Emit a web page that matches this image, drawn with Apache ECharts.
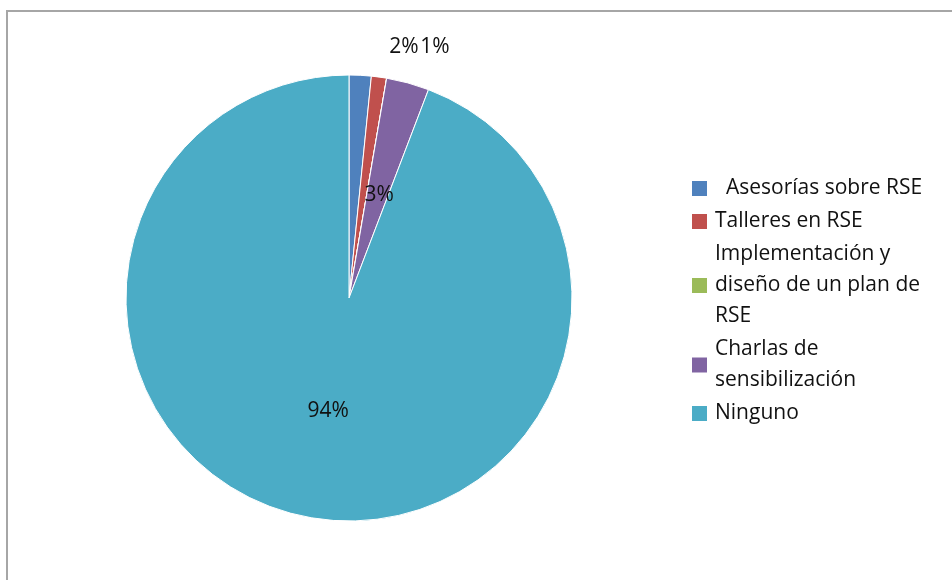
<!DOCTYPE html>
<html>
<head>
<meta charset="utf-8">
<script src="https://cdn.jsdelivr.net/npm/echarts@6/dist/echarts.min.js"></script>
<style>html,body{margin:0;padding:0;background:#fff}#c{width:952px;height:580px}</style>
</head>
<body>
<div id="c"></div>
<script>
const categories = ['Asesorías sobre RSE', 'Talleres en RSE', 'Implementación y diseño de un plan de RSE', 'Charlas de sensibilización', 'Ninguno'];
const legendLabels = ['  Asesorías sobre RSE', 'Talleres en RSE', 'Implementación y\ndiseño de un plan de\nRSE', 'Charlas de\nsensibilización', 'Ninguno'];
const values = [1.6, 1.1, 0, 3.1, 94.2];
const colors = ['#4F81BD', '#C0504D', '#9BBB59', '#8064A2', '#4BACC6'];

const chart = echarts.init(document.getElementById('c'));
const data = categories.map((n, i) => ({
  name: n, value: values[i],
  itemStyle: { color: colors[i] },
  label: { show: values[i] > 0 }
}));
chart.setOption({
  animation: false,
  graphic: [
    { type: 'line', shape: { x1: 7, y1: 11, x2: 7, y2: 580 }, style: { stroke: '#a6a6a6', lineWidth: 2 } },
    { type: 'line', shape: { x1: 6, y1: 11, x2: 952, y2: 11 }, style: { stroke: '#a6a6a6', lineWidth: 2 } }
  ],
  legend: {
    orient: 'vertical',
    left: 685,
    top: 168,
    itemWidth: 17,
    itemHeight: 17,
    itemGap: 2,
    icon: 'rect',
    data: categories,
    formatter: name => legendLabels[categories.indexOf(name)],
    textStyle: { fontFamily: 'Open Sans', fontSize: 21, color: '#111', lineHeight: 31, padding: [0, 0, 0, 2] }
  },
  series: [{
    type: 'pie',
    center: [349, 298],
    radius: 223,
    startAngle: 90,
    clockwise: true,
    data: data,
    itemStyle: { borderColor: '#fff', borderWidth: 1 },
    label: {
      show: true,
      position: 'inside',
      formatter: p => Math.round(p.percent) + '%',
      fontFamily: 'Open Sans',
      fontSize: 21,
      color: '#111'
    },
    labelLine: { show: false },
    labelLayout: function (p) {
      if (p.dataIndex === 0) return { x: 404, y: 47, align: 'center', verticalAlign: 'middle' };
      if (p.dataIndex === 1) return { x: 435, y: 47, align: 'center', verticalAlign: 'middle' };
      if (p.dataIndex === 3) return { dy: 7 };
      return {};
    }
  }]
});
</script>
</body>
</html>
